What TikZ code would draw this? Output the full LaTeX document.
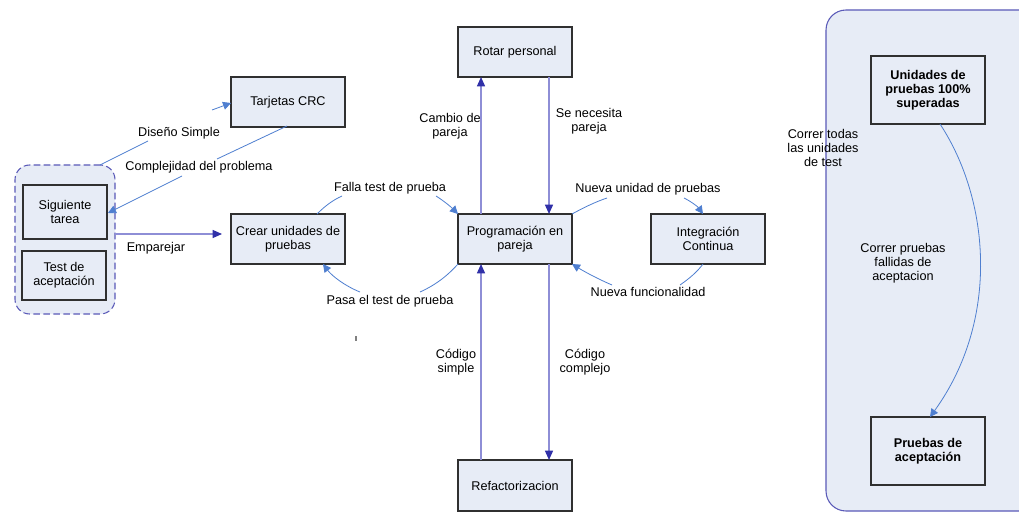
\documentclass[tikz,border=0pt]{standalone}
\usepackage{fontspec}
\setmainfont{Liberation Sans}
\usetikzlibrary{arrows.meta}
\definecolor{boxfill}{HTML}{E7ECF6}
\definecolor{boxdraw}{HTML}{303030}
\definecolor{bluel}{HTML}{4F7FD0}
\definecolor{purl}{HTML}{8E8ED6}
\definecolor{navy}{HTML}{3030A8}
\definecolor{grpdraw}{HTML}{5A5AB8}
\tikzset{
  box/.style={draw=boxdraw,fill=boxfill,line width=0.8pt,minimum width=114*0.75pt,minimum height=50*0.75pt,inner sep=0pt,align=center},
  lbl/.style={align=center,inner sep=1pt},
  blarrow/.style={draw=bluel,line width=0.6pt,-{Triangle[length=6pt,width=6pt]}},
  blline/.style={draw=bluel,line width=0.6pt},
  parrow/.style={draw=purl,line width=1pt,-{Triangle[length=7pt,width=6pt,fill=navy,color=navy]}},
}
\begin{document}
\begin{tikzpicture}[x=0.75pt,y=-0.75pt,font=\fontsize{9.5}{10.5}\selectfont]
\path[use as bounding box,fill=white] (0,0) rectangle (1019,513);
% right group container
\draw[draw=grpdraw,fill=boxfill,line width=0.8pt,rounded corners=15pt] (1030,10) -- (826,10) -- (826,511) -- (1030,511);
% left dashed container
\node[draw=grpdraw,fill=boxfill,dash pattern=on 5pt off 2.5pt,line width=0.8pt,rounded corners=11pt,minimum width=100*0.75pt,minimum height=149*0.75pt,inner sep=0pt] (grp) at (65,239.5) {};
% boxes
\node[box] (crc) at (288,102) {Tarjetas CRC};
\node[box,minimum width=84*0.75pt,minimum height=54*0.75pt] (sig) at (65,212) {Siguiente\\tarea};
\node[box,minimum width=84*0.75pt,minimum height=49*0.75pt] (acep) at (64,275.5) {Test de\\aceptación};
\node[box] (crear) at (288,239) {Crear unidades de\\pruebas};
\node[box] (rotar) at (515,52) {Rotar personal};
\node[box] (prog) at (515,239) {Programación en\\pareja};
\node[box] (integ) at (708,239) {Integración\\Continua};
\node[box,minimum height=51*0.75pt] (refac) at (515,485.5) {Refactorizacion};
\node[box,minimum height=68*0.75pt,font=\fontsize{9.5}{10.5}\selectfont\bfseries] (unid) at (928,90) {Unidades de\\pruebas 100\%\\superadas};
\node[box,minimum height=68*0.75pt,font=\fontsize{9.5}{10.5}\selectfont\bfseries] (pacep) at (928,451) {Pruebas de\\aceptación};
% vertical arrows
\coordinate (r1) at (481,77); \coordinate (r2) at (549,77);
\coordinate (p1) at (481,214); \coordinate (p2) at (549,214);
\coordinate (p3) at (481,264); \coordinate (p4) at (549,264);
\coordinate (f1) at (481,460); \coordinate (f2) at (549,460);
\draw[parrow] (p1) -- (r1);
\draw[parrow] (r2) -- (p2);
\draw[parrow] (f1) -- (p3);
\draw[parrow] (p4) -- (f2);
\node[lbl] (lcam) at (450,126) {Cambio de\\pareja};
\node[lbl] (lse) at (589,121) {Se necesita\\pareja};
\node[lbl] (lcs) at (456,362) {Código\\simple};
\node[lbl] (lcc) at (585,362) {Código\\complejo};
% Emparejar
\coordinate (e1) at (115,234); \coordinate (e2) at (222,234);
\draw[parrow] (e1) -- (e2);
\node[lbl] (lemp) at (156,248) {Emparejar};
% Diseño simple
\coordinate (d1) at (100,165); \coordinate (d2) at (231,103);
\node[lbl] (ldis) at (179,133) {Diseño Simple};
\draw[blline] (d1) -- (148,141);
\draw[blarrow] (212,110) -- (d2);
% Complejidad
\coordinate (c1) at (287,126); \coordinate (c2) at (108,213);
\node[lbl] (lcom) at (199,167) {Complejidad del problema};
\draw[blline] (c1) -- (217,159);
\draw[blarrow] (182,176) -- (c2);
% Falla test de prueba
\coordinate (fa1) at (317,214); \coordinate (fa2) at (458,214);
\node[lbl] (lfal) at (390,188) {Falla test de prueba};
\draw[blline] (fa1) .. controls (325,206) and (333,200) .. (342,196);
\draw[blarrow] (436,196) .. controls (444,201) and (451,207) .. (fa2);
% Pasa el test de prueba
\coordinate (pa1) at (458,264); \coordinate (pa2) at (323,264);
\node[lbl] (lpas) at (390,301) {Pasa el test de prueba};
\draw[blline] (pa1) .. controls (450,273) and (438,284) .. (420,292);
\draw[blarrow] (360,292) .. controls (345,286) and (332,276) .. (pa2);
% Nueva unidad de pruebas
\coordinate (n1) at (572,214); \coordinate (n2) at (703,214);
\node[lbl] (lnue) at (648,189) {Nueva unidad de pruebas};
\draw[blline] (n1) .. controls (583,208) and (595,202) .. (607,198);
\draw[blarrow] (684,198) .. controls (692,202) and (698,207) .. (n2);
% Nueva funcionalidad
\coordinate (nf1) at (703,264); \coordinate (nf2) at (572,264);
\node[lbl] (lnf) at (648,292) {Nueva funcionalidad};
\draw[blline] (nf1) .. controls (697,272) and (690,278) .. (680,285);
\draw[blarrow] (612,285) .. controls (598,279) and (585,272) .. (nf2);
% right group arrow
\draw[blarrow] (940,124) .. controls (990,200) and (1000,320) .. (930,417);
\node[lbl] (lcor) at (823,148) {Correr todas\\las unidades\\de test};
\node[lbl] (lcpf) at (903,263) {Correr pruebas\\fallidas de\\aceptacion};
% stray tick
\draw[draw=gray,line width=1pt] (356,336) -- (356,341);
\end{tikzpicture}
\end{document}
